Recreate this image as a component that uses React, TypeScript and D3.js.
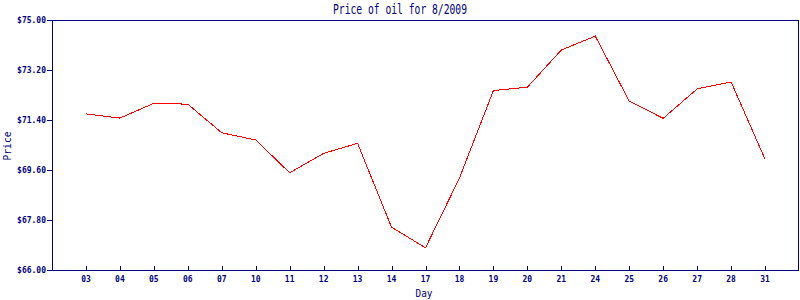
import React from "react";
import * as d3 from "d3";

const days = ["03","04","05","06","07","10","11","12","13","14","17","18","19","20","21","24","25","26","27","28","31"];
const prices = [71.62,71.47,72.0,71.97,70.94,70.68,69.5,70.2,70.56,67.54,66.8,69.31,72.46,72.58,73.92,74.42,72.08,71.46,72.52,72.77,69.99];
const yTicks = [66.0,67.8,69.6,71.4,73.2,75.0];
const title = "Price of oil for 8/2009";
const xTitle = "Day";
const yTitle = "Price";

const W = 800, H = 300;
const M = { left: 52, right: 1, top: 20, bottom: 30 };
const NAVY = "#000080";
const FONT = "'DejaVu Sans Mono', monospace";

export default function App() {
  const x = d3.scalePoint<string>().domain(days).range([M.left, W - M.right]).padding(1);
  const y = d3.scaleLinear().domain([66, 75]).range([H - M.bottom, M.top]);
  const line = d3.line<number>().x((_, i) => x(days[i]) as number).y((d) => y(d));
  const x0 = M.left, x1 = W - M.right, y0 = H - M.bottom, y1 = M.top;
  return (
    <div style={{ position: "fixed", left: 0, top: 0 }}>
      <svg width={W} height={H} style={{ display: "block", background: "#fff" }}>
        <text x={400} y={14} textAnchor="middle" fill={NAVY} fontFamily={FONT} fontSize={14} textLength={134} lengthAdjust="spacingAndGlyphs">{title}</text>
        <rect x={x0 + 0.5} y={y1 + 0.5} width={x1 - x0 - 1} height={y0 - y1} fill="none" stroke={NAVY} strokeWidth={1} shapeRendering="crispEdges" />
        <line x1={x0} x2={x1} y1={y0 + 0.5} y2={y0 + 0.5} stroke={NAVY} strokeWidth={1.5} shapeRendering="crispEdges" />
        <line x1={x0 + 0.5} x2={x0 + 0.5} y1={y1} y2={y0} stroke={NAVY} strokeWidth={1.5} shapeRendering="crispEdges" />
        {yTicks.map((t) => (
          <g key={t}>
            <line x1={x0 - 5} x2={x0} y1={Math.round(y(t)) + 0.5} y2={Math.round(y(t)) + 0.5} stroke={NAVY} shapeRendering="crispEdges" />
            <text x={46} y={y(t)} dy="0.35em" textAnchor="end" fill={NAVY} fontFamily={FONT} fontWeight="bold" fontSize={8}>{"$" + t.toFixed(2)}</text>
          </g>
        ))}
        {days.map((d) => {
          const px = Math.round(x(d) as number) + 0.5;
          return (
            <g key={d}>
              <line x1={px} x2={px} y1={y0 - 4} y2={y0} stroke={NAVY} shapeRendering="crispEdges" />
              <text x={x(d)} y={282} textAnchor="middle" fill={NAVY} fontFamily={FONT} fontWeight="bold" fontSize={8}>{d}</text>
            </g>
          );
        })}
        <text x={424} y={297} textAnchor="middle" fill={NAVY} fontFamily={FONT} fontSize={11} textLength={17} lengthAdjust="spacingAndGlyphs">{xTitle}</text>
        <text transform="translate(11,146) rotate(-90)" textAnchor="middle" fill={NAVY} fontFamily={FONT} fontSize={11} textLength={29} lengthAdjust="spacingAndGlyphs">{yTitle}</text>
        <path d={line(prices) || ""} fill="none" stroke="#ff0000" strokeWidth={1} shapeRendering="crispEdges" />
      </svg>
    </div>
  );
}
